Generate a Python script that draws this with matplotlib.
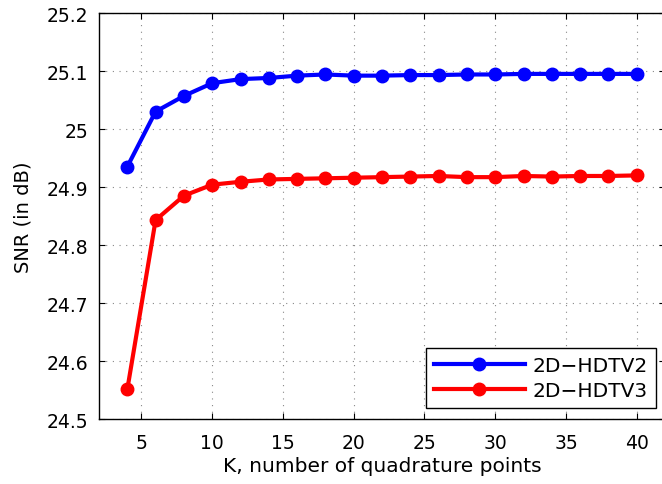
import numpy as np
import matplotlib
matplotlib.use("Agg")
import matplotlib.pyplot as plt

plt.rcParams['font.family'] = ['DejaVu Sans']

K = [4, 6, 8, 10, 12, 14, 16, 18, 20, 22, 24, 26, 28, 30, 32, 34, 36, 38, 40]
snr_hdtv2 = [24.935, 25.030, 25.057, 25.079, 25.086, 25.088, 25.092, 25.094, 25.092, 25.092,
             25.093, 25.093, 25.094, 25.094, 25.095, 25.095, 25.095, 25.095, 25.095]
snr_hdtv3 = [24.551, 24.843, 24.885, 24.904, 24.909, 24.913, 24.914, 24.915, 24.916, 24.917,
             24.918, 24.919, 24.917, 24.917, 24.919, 24.918, 24.919, 24.919, 24.920]
labels = ["2D\u2212HDTV2", "2D\u2212HDTV3"]

fig = plt.figure(figsize=(6.62, 4.85), dpi=100)
ax = fig.add_axes([99/662, 1-420/485, 566/662, 406/485])

ax.plot(K, snr_hdtv2, color='#0000ff', lw=3, marker='o', ms=9, label=labels[0])
ax.plot(K, snr_hdtv3, color='#ff0000', lw=3, marker='o', ms=9, label=labels[1])

ax.set_xlim(2, 42)
ax.set_ylim(24.5, 25.2)
ax.set_xticks([5, 10, 15, 20, 25, 30, 35, 40])
ax.set_yticks(np.arange(24.5, 25.21, 0.1))
ax.set_yticklabels(["24.5", "24.6", "24.7", "24.8", "24.9", "25", "25.1", "25.2"])
ax.grid(True, linestyle=(0, (1, 5)), color='#888888', lw=0.8)
ax.tick_params(direction='in', top=True, right=True, labelsize=13.5, length=4, pad=8)
ax.tick_params(axis='x', pad=10)
for s in ax.spines.values():
    s.set_linewidth(1)

ax.set_xlabel("K, number of quadrature points", fontsize=14.5, labelpad=3)
ax.set_ylabel("SNR (in dB)", fontsize=14, labelpad=10)

leg = ax.legend(loc='lower right', fontsize=14.5, fancybox=False, framealpha=1,
                edgecolor='black', bbox_to_anchor=((656 - 99) / 566, 11 / 406),
                bbox_transform=ax.transAxes, borderpad=0.4, handlelength=4.5,
                handletextpad=0.4, labelspacing=0.3, borderaxespad=0)
leg.get_frame().set_linewidth(1)

fig.savefig("out.png", dpi=100)
